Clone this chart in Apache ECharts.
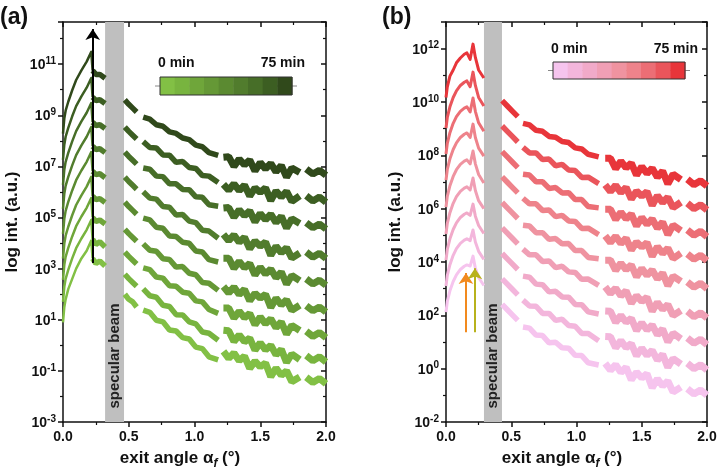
<!DOCTYPE html>
<html>
<head>
<meta charset="utf-8">
<title>exit angle scans</title>
<script src="https://cdn.jsdelivr.net/npm/echarts@6/dist/echarts.min.js"></script>
<style>
  html, body { margin: 0; padding: 0; background: #fff; }
  #chart { width: 720px; height: 473px; }
</style>
</head>
<body>
<div id="chart"></div>
<script>
// exit angle (deg); null values in the curves mark the gaps (specular beam, detector gaps)
const anglesA = [0, 0.01, 0.02, 0.04, 0.07, 0.1, 0.14, 0.18, 0.215, 0.225, 0.25, 0.28, 0.32, 0.4,
  0.47, 0.5, 0.53, 0.56, 0.585, 0.61, 0.66, 0.71, 0.76, 0.81, 0.86, 0.91, 0.96, 1.01, 1.06, 1.11, 1.18, 1.2,
  1.22, 1.26, 1.3, 1.34, 1.38, 1.42, 1.46, 1.5, 1.54, 1.58, 1.62, 1.66, 1.7, 1.74, 1.8, 1.825, 1.85, 1.9, 1.95, 2.0];
const anglesB = [0, 0.01, 0.03, 0.055, 0.08, 0.11, 0.14, 0.16, 0.185, 0.207, 0.225, 0.25, 0.29, 0.36,
  0.43, 0.47, 0.51, 0.55, 0.57, 0.59, 0.64, 0.69, 0.74, 0.79, 0.84, 0.89, 0.94, 0.99, 1.04, 1.09, 1.17, 1.195,
  1.22, 1.26, 1.3, 1.34, 1.38, 1.42, 1.46, 1.5, 1.54, 1.58, 1.62, 1.66, 1.7, 1.74, 1.8, 1.825, 1.85, 1.9, 1.95, 2.0];

// log10 intensity, (a) 0 min ... 75 min (bottom to top)
const curveA0 = [0.9,1.5,1.8,2.2,2.6,3.0,3.4,3.7,4.1, 3.4,3.2,3.3,3.1, null, 2.0,1.8,1.7,1.5, null,
  1.38,1.29,0.98,0.92,0.6,0.56,0.3,0.25,-0.07,-0.13,-0.45,-0.57, null,
  -0.24,-0.51,-0.3,-0.6,-0.42,-0.9,-0.62,-0.84,-0.69,-1.23,-0.89,-1.17,-1.0,-1.42,-1.24, null, -1.25,-1.45,-1.3,-1.5];
const curveA1 = [1.7,2.3,2.6,2.95,3.4,3.8,4.18,4.52,4.9, 4.15,3.95,4.05,3.85, null, 2.78,2.61,2.46,2.31, null,
  2.21,1.94,1.88,1.57,1.52,1.2,1.19,0.92,0.84,0.52,0.47,0.2, null,
  0.59,0.57,0.15,0.41,0.14,0.28,-0.19,0.1,-0.18,0.0,-0.37,-0.16,-0.67,-0.34,-0.56, null, -0.4,-0.6,-0.45,-0.65];
const curveA2 = [2.56,3.16,3.46,3.81,4.26,4.66,5.04,5.38,5.76, 5.0,4.85,4.9,4.75, null, 3.65,3.48,3.33,3.18, null,
  3.03,2.96,2.67,2.63,2.33,2.31,2.08,2.04,1.74,1.7,1.4,1.25, null,
  1.46,1.46,1.06,1.33,1.08,1.25,0.8,1.11,0.84,1.04,0.69,0.92,0.44,0.78,0.58, null, 0.55,0.35,0.5,0.3];
const curveA3 = [3.39,3.99,4.29,4.64,5.09,5.49,5.87,6.21,6.59, 5.84,5.7,5.74,5.59, null, 4.54,4.37,4.22,4.07, null,
  3.97,3.72,3.68,3.39,3.36,3.06,3.08,2.82,2.76,2.46,2.43,2.15, null,
  2.3,2.05,2.28,1.99,2.19,1.74,2.04,1.84,2.0,1.48,1.84,1.58,1.78,1.37,1.57, null, 1.55,1.35,1.5,1.3];
const curveA4 = [4.36,4.96,5.26,5.61,6.06,6.46,6.84,7.18,7.56, 6.81,6.68,6.71,6.56, null, 5.6,5.43,5.28,5.13, null,
  4.98,4.91,4.62,4.58,4.28,4.26,4.03,3.99,3.69,3.65,3.35,3.26, null,
  3.41,3.41,3.01,3.28,3.03,3.2,2.75,3.06,2.79,2.99,2.64,2.87,2.39,2.73,2.53, null, 2.6,2.4,2.55,2.35];
const curveA5 = [5.34,5.94,6.24,6.59,7.04,7.44,7.82,8.16,8.54, 7.79,7.66,7.69,7.54, null, 6.58,6.41,6.26,6.11, null,
  6.01,5.76,5.72,5.43,5.4,5.1,5.12,4.86,4.8,4.5,4.47,4.19, null,
  4.34,4.09,4.32,4.03,4.23,3.78,4.08,3.88,4.04,3.52,3.88,3.62,3.82,3.41,3.61, null, 3.65,3.45,3.6,3.4];
const curveA6 = [6.28,6.88,7.18,7.53,7.98,8.38,8.76,9.1,9.48, 8.73,8.6,8.63,8.48, null, 7.56,7.39,7.24,7.09, null,
  6.94,6.89,6.62,6.6,6.32,6.32,6.1,6.09,5.81,5.79,5.5,5.44, null,
  5.37,5.39,5.01,5.3,5.07,5.26,4.83,5.16,4.91,5.13,4.8,5.05,4.59,4.95,4.77, null, 4.8,4.6,4.75,4.55];
const curveA7 = [7.26,7.86,8.16,8.51,8.96,9.36,9.74,10.08,10.46, 9.71,9.58,9.61,9.46, null, 8.54,8.37,8.22,8.07, null,
  7.97,7.74,7.72,7.45,7.44,7.16,7.19,6.96,6.92,6.64,6.62,6.37, null,
  6.3,6.07,6.32,6.05,6.27,5.84,6.16,5.98,6.16,5.66,6.04,5.8,6.02,5.63,5.85, null, 5.85,5.65,5.8,5.6];
const curveA8 = [8.28,8.88,9.18,9.53,9.98,10.38,10.76,11.1,11.48, 10.75,10.6,10.6,10.45, null, 9.6,9.43,9.28,9.13, null,
  8.93,8.85,8.63,8.57,8.35,8.29,8.11,8.05,7.83,7.77,7.54,7.43, null,
  7.36,7.38,7.0,7.29,7.06,7.25,6.82,7.15,6.9,7.12,6.79,7.04,6.58,6.94,6.76, null, 6.9,6.7,6.85,6.65];

// log10 intensity, (b) 0 min ... 75 min
const curveB0 = [2.12,2.52,2.92,3.27,3.52,3.72,3.84,3.89,3.85,4.22, 3.77,3.42,3.12, null, 2.41,2.21,2.01,1.81, null,
  1.56,1.52,1.26,1.24,0.97,0.99,0.78,0.77,0.5,0.49,0.22,0.14, null,
  0.2,-0.06,0.15,-0.14,0.05,-0.42,-0.13,-0.35,-0.19,-0.72,-0.38,-0.65,-0.46,-0.88,-0.69, null, -0.75,-0.95,-0.8,-1.0];
const curveB1 = [3.1,3.5,3.9,4.25,4.5,4.7,4.82,4.87,4.8,5.2, 4.75,4.4,4.1, null, 3.37,3.17,2.97,2.77, null,
  2.57,2.35,2.34,2.07,2.07,1.81,1.85,1.62,1.59,1.32,1.32,1.05, null,
  1.21,1.2,0.78,1.05,0.79,0.94,0.48,0.77,0.5,0.69,0.32,0.54,0.05,0.38,0.17, null, 0.2,0.0,0.15,-0.05];
const curveB2 = [4.07,4.47,4.87,5.22,5.47,5.67,5.79,5.84,5.75,6.17, 5.72,5.37,5.07, null, 4.32,4.12,3.92,3.72, null,
  3.47,3.43,3.17,3.15,2.88,2.9,2.69,2.68,2.41,2.4,2.13,2.05, null,
  2.16,2.15,1.73,2.0,1.74,1.89,1.43,1.72,1.45,1.64,1.27,1.49,1.0,1.33,1.12, null, 1.15,0.95,1.1,0.9];
const curveB3 = [5.05,5.45,5.85,6.2,6.45,6.65,6.77,6.82,6.7,7.15, 6.68,6.3,6.0, null, 5.28,5.08,4.88,4.68, null,
  4.48,4.27,4.27,4.02,4.04,3.79,3.84,3.63,3.61,3.35,3.36,3.12, null,
  3.07,2.81,3.02,2.73,2.92,2.45,2.74,2.52,2.68,2.15,2.49,2.22,2.41,1.99,2.18, null, 2.15,1.95,2.1,1.9];
const curveB4 = [6.06,6.46,6.86,7.21,7.46,7.66,7.78,7.83,7.68,8.16, 7.68,7.28,6.96, null, 6.23,6.03,5.83,5.63, null,
  5.38,5.35,5.1,5.1,4.85,4.88,4.68,4.69,4.43,4.43,4.17,4.12, null,
  4.07,4.07,3.68,3.96,3.71,3.89,3.44,3.76,3.5,3.7,3.36,3.59,3.11,3.47,3.27, null, 3.25,3.05,3.2,3.0];
const curveB5 = [7.07,7.47,7.87,8.22,8.47,8.67,8.79,8.84,8.67,9.17, 8.67,8.27,7.97, null, 7.19,6.99,6.79,6.59, null,
  6.39,6.18,6.18,5.93,5.95,5.7,5.75,5.54,5.52,5.26,5.27,5.03, null,
  4.98,4.73,4.97,4.69,4.89,4.45,4.75,4.56,4.73,4.21,4.58,4.32,4.52,4.13,4.33, null, 4.3,4.1,4.25,4.05];
const curveB6 = [8.05,8.45,8.85,9.2,9.45,9.65,9.77,9.82,9.63,10.15, 9.65,9.22,8.9, null, 8.14,7.94,7.74,7.54, null,
  7.29,7.26,7.01,7.01,6.76,6.79,6.59,6.6,6.34,6.34,6.08,6.03, null,
  5.98,5.98,5.59,5.87,5.62,5.8,5.35,5.67,5.41,5.61,5.27,5.5,5.02,5.38,5.18, null, 5.2,5.0,5.15,4.95];
const curveB7 = [9.02,9.42,9.82,10.17,10.42,10.62,10.74,10.79,10.57,11.12, 10.62,10.17,9.85, null, 9.1,8.9,8.7,8.5, null,
  8.3,8.09,8.09,7.84,7.86,7.61,7.66,7.45,7.43,7.17,7.18,6.94, null,
  6.89,6.64,6.88,6.6,6.8,6.36,6.66,6.47,6.64,6.12,6.49,6.23,6.43,6.04,6.24, null, 6.2,6.0,6.15,5.95];
const curveB8 = [10.17,10.57,10.97,11.2,11.47,11.65,11.79,11.84,11.6,12.17, 11.67,11.2,10.9, null, 10.05,9.85,9.65,9.45, null,
  9.2,9.14,8.94,8.9,8.71,8.68,8.52,8.48,8.28,8.24,8.04,7.94, null,
  7.89,7.89,7.5,7.78,7.53,7.71,7.26,7.58,7.32,7.52,7.18,7.41,6.93,7.29,7.09, null, 7.1,6.9,7.05,6.85];

const curvesA = [curveA0, curveA1, curveA2, curveA3, curveA4, curveA5, curveA6, curveA7, curveA8];
const curvesB = [curveB0, curveB1, curveB2, curveB3, curveB4, curveB5, curveB6, curveB7, curveB8];

const greens = ['#82c045', '#78b43f', '#6fa63a', '#659836', '#5b8a31', '#517c2d', '#476e28', '#3c5e22', '#30491b'];
const reds = ['#f6c4ee', '#f3b6dc', '#f1aac9', '#f09fb5', '#ef93a0', '#ee838b', '#ec6e75', '#ea555b', '#e8353a'];

const FONT = '"Liberation Sans", Arial, sans-serif';
const INK = '#111';

// keep only the points of one angular range, the rest becomes a gap
function part(xs, ys, lo, hi) {
  return xs.map((x, k) => [x, (x >= lo && x <= hi && ys[k] != null) ? ys[k] : null]);
}

function curveSeries(axis, xs, curves, colors, cuts, widths) {
  const out = [];
  curves.forEach((ys, i) => {
    cuts.forEach((c, j) => {
      out.push({
        type: 'line', xAxisIndex: axis, yAxisIndex: axis,
        data: part(xs, ys, c[0], c[1]),
        symbol: 'none', silent: true, z: 3, animation: false,
        lineStyle: { color: colors[i], width: widths[j], join: j ? 'bevel' : 'round', cap: 'butt' }
      });
    });
  });
  return out;
}

function xAx(gi, top) {
  return {
    type: 'value', gridIndex: gi, position: top ? 'top' : 'bottom', min: 0, max: 2, interval: 0.5,
    axisLine: { show: true, onZero: false, lineStyle: { color: INK, width: 1.5 } },
    axisTick: { show: true, inside: top, length: 5, lineStyle: { color: INK, width: 1.5 } },
    minorTick: { show: true, splitNumber: 2, length: 3, lineStyle: { color: INK, width: 1.2 } },
    splitLine: { show: false },
    axisLabel: { show: !top, margin: 8, color: INK, fontFamily: FONT, fontWeight: 'bold', fontSize: 14,
      formatter: v => v.toFixed(1) }
  };
}

function yAx(gi, right, min, max) {
  return {
    type: 'value', gridIndex: gi, position: right ? 'right' : 'left', min: min, max: max, interval: 2,
    name: right ? '' : 'log int. (a.u.)', nameLocation: 'middle', nameGap: 42,
    nameTextStyle: { fontFamily: FONT, fontWeight: 'bold', fontSize: 17, color: INK },
    axisLine: { show: true, onZero: false, lineStyle: { color: INK, width: 1.5 } },
    axisTick: { show: true, inside: right, length: 5, lineStyle: { color: INK, width: 1.5 } },
    minorTick: { show: true, splitNumber: 2, length: 3, lineStyle: { color: INK, width: 1.2 } },
    splitLine: { show: false },
    axisLabel: {
      show: !right, margin: 7,
      formatter: v => (Math.abs((v - min) % 2) < 1e-6 ? '{b|10}{s|' + Math.round(v) + '}' : ''),
      rich: {
        b: { fontFamily: FONT, fontWeight: 'bold', fontSize: 14, color: INK, lineHeight: 16,
          padding: [3, 0, 0, 0], verticalAlign: 'bottom' },
        s: { fontFamily: FONT, fontWeight: 'bold', fontSize: 10, color: INK, lineHeight: 12, verticalAlign: 'top' }
      }
    }
  };
}

function extras(axis, band, arrows) {
  return {
    type: 'line', xAxisIndex: axis, yAxisIndex: axis, data: [], z: 5, silent: true, animation: false,
    markArea: { silent: true, z: 1, itemStyle: { color: '#bfbfbf', opacity: 1 },
      data: [[{ xAxis: band[0] }, { xAxis: band[1] }]] },
    markLine: {
      silent: true, symbol: ['none', 'arrow'], symbolSize: 11, label: { show: false },
      data: arrows.map(a => [
        { coord: [a.x, a.from], lineStyle: { color: a.color, width: 2, type: 'solid' } },
        { coord: [a.x, a.to] }
      ])
    }
  };
}

function colorbar(x0, y0, w, h, colors, textY) {
  const cw = w / colors.length;
  const els = [
    { type: 'line', z: 100, shape: { x1: x0 - 5, y1: y0 + h / 2, x2: x0 + w + 5, y2: y0 + h / 2 },
      style: { stroke: '#888', lineWidth: 1 } }
  ];
  colors.forEach((c, i) => {
    els.push({ type: 'rect', z: 101, shape: { x: x0 + i * cw, y: y0, width: cw + 0.5, height: h }, style: { fill: c } });
  });
  els.push({ type: 'rect', z: 102, shape: { x: x0, y: y0, width: w, height: h }, style: { fill: 'none', stroke: '#333', lineWidth: 1 } });
  els.push({ type: 'text', z: 102, x: x0 - 2, y: textY, style: { text: '0 min', font: 'bold 14px ' + FONT, fill: INK, verticalAlign: 'middle' } });
  els.push({ type: 'text', z: 102, x: x0 + w + 13, y: textY, style: { text: '75 min', font: 'bold 14px ' + FONT, fill: INK, align: 'right', verticalAlign: 'middle' } });
  return els;
}

function xTitle(cx) {
  return {
    type: 'text', z: 100, x: cx, y: 460,
    style: {
      text: '{m|exit angle α}{f|f}{m| (°)}', align: 'center', verticalAlign: 'middle',
      rich: {
        m: { fontFamily: FONT, fontWeight: 'bold', fontSize: 17, fill: INK, lineHeight: 20, verticalAlign: 'top' },
        f: { fontFamily: FONT, fontWeight: 'bold', fontStyle: 'italic', fontSize: 12, fill: INK, lineHeight: 12, verticalAlign: 'bottom' }
      }
    }
  };
}

function beamText(cx) {
  return { type: 'text', z: 100, x: cx, y: 356, rotation: Math.PI / 2,
    style: { text: 'specular beam', font: 'bold 15px ' + FONT, fill: '#222', align: 'center', verticalAlign: 'middle' } };
}

const chart = echarts.init(document.getElementById('chart'), null, { renderer: 'canvas' });

chart.setOption({
  backgroundColor: '#fff',
  animation: false,
  grid: [
    { left: 63, top: 22, width: 263, height: 400, outerBoundsMode: 'none' },
    { left: 446, top: 22, width: 261, height: 400, outerBoundsMode: 'none' }
  ],
  xAxis: [xAx(0, false), xAx(0, true), xAx(1, false), xAx(1, true)],
  yAxis: [yAx(0, false, -3, 12.65), yAx(0, true, -3, 12.65), yAx(1, false, -2, 13), yAx(1, true, -2, 13)],
  series: [].concat(
    curveSeries(0, anglesA, curvesA, greens, [[0, 0.225], [0.225, 1.19], [1.2, 2]], [2.5, 5.5, 7]),
    curveSeries(2, anglesB, curvesB, reds, [[0, 0.3], [0.4, 1.19], [1.2, 2]], [3, 5.5, 7]),
    [
      extras(0, [0.32, 0.464], [{ x: 0.226, from: 3.22, to: 12.38, color: '#000' }]),
      extras(2, [0.291, 0.429], [
        { x: 0.153, from: 1.37, to: 3.59, color: '#f28a1e' },
        { x: 0.222, from: 1.37, to: 3.77, color: '#b8b21c' }
      ])
    ]
  ),
  graphic: [].concat(
    [
      { type: 'text', z: 100, x: 0, y: 6, style: { text: '(a)', font: 'bold 23px ' + FONT, fill: INK } },
      { type: 'text', z: 100, x: 382, y: 6, style: { text: '(b)', font: 'bold 23px ' + FONT, fill: INK } },
      beamText(114.5), beamText(493),
      xTitle(180), xTitle(562)
    ],
    colorbar(160, 77, 132, 18, greens, 63),
    colorbar(553, 62, 132, 17, reds, 49)
  )
});
</script>
</body>
</html>
